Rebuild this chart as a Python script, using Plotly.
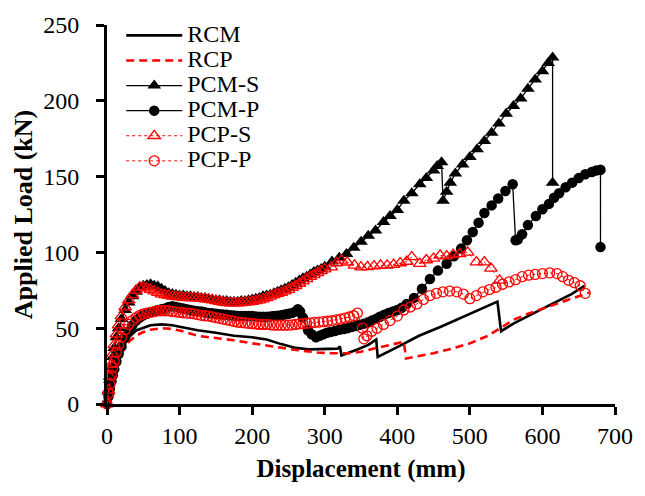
import plotly.graph_objects as go

# ---------------- data ----------------
rcm_x = [0, 3, 6, 10, 15, 20, 25, 30, 40, 50, 60, 75, 90, 100, 125, 150, 175, 200, 220, 240, 260, 280, 300, 318, 321, 323, 345, 360, 371, 373, 400, 430, 460, 490, 520, 538, 543, 560, 580, 600, 620, 640, 658]
rcm_y = [0, 8, 15, 22, 29, 35, 40, 44, 48.5, 50.5, 52, 52.5, 52, 51, 48.7, 47, 45, 44, 42.5, 39.5, 37, 36, 36, 36.5, 38, 32, 36, 39, 42.5, 31, 37.5, 45, 51, 57.5, 63.5, 67.5, 48, 53, 58, 63, 67.5, 72.5, 78]

rcp_x = [0, 3, 6, 10, 15, 20, 25, 30, 40, 50, 60, 75, 90, 100, 125, 150, 175, 200, 220, 240, 263, 290, 310, 336, 350, 372, 390, 409, 412, 430, 450, 475, 500, 525, 545, 560, 580, 600, 620, 640, 665]
rcp_y = [0, 7, 13, 20, 27, 33, 37.5, 41, 45, 47.5, 49, 50, 49.5, 48.5, 45, 43.5, 42, 40, 38.5, 37, 35.5, 34, 33.5, 33.5, 34.5, 37, 39, 41, 30, 31.5, 33.5, 36.5, 40, 45, 51, 55.5, 59.5, 63, 66, 69.5, 73.5]

pcms_x = [0, 2, 4, 6, 8, 10, 13, 16, 20, 25, 30, 35, 40, 45, 50, 55, 60, 65, 70, 75, 80, 85, 90, 95, 100, 105, 110, 115, 120, 125, 130, 135, 140, 145, 150, 155, 160, 165, 170, 175, 180, 185, 190, 195, 200, 205, 210, 215, 220, 225, 230, 235, 240, 245, 250, 255, 260, 265, 270, 275, 280, 285, 290, 295, 300, 310, 320, 330, 340, 350, 360, 370, 381, 390, 400, 409, 420, 431, 440, 450, 455, 461, 463, 468, 473, 480, 490, 500, 510, 520, 530, 540, 550, 560, 570, 580, 590, 600, 608, 614, 614]
pcms_y = [0, 8, 16, 24, 31, 37, 44, 50, 56, 62, 67, 71, 74, 76.5, 78, 78.5, 79, 78, 77.5, 76, 74.5, 73, 72.5, 72, 71.5, 71.5, 71, 71, 70.5, 70.5, 70, 70, 69.5, 69, 68.5, 68.5, 68, 68, 67.5, 67.5, 67.5, 68, 68, 68.5, 69, 69.5, 70, 71, 71.5, 72, 73, 74, 75, 76, 77, 78.5, 80, 81.5, 83, 84, 85.5, 87, 88, 89, 90.5, 94, 96.5, 99, 103, 107, 111, 114.5, 120, 124, 128, 134, 139, 145, 149, 154, 157, 159.5, 134, 140, 146, 152, 158, 163, 168, 173.5, 179, 185, 191.5, 196.5, 201.5, 208, 214, 219.5, 225, 228.5, 146]

pcmp_x = [0, 2, 4, 6, 8, 10, 13, 16, 20, 25, 30, 35, 40, 45, 50, 55, 60, 65, 70, 75, 80, 85, 90, 95, 100, 105, 110, 115, 120, 125, 130, 135, 140, 145, 150, 155, 160, 165, 170, 175, 180, 185, 190, 195, 200, 205, 210, 215, 220, 225, 230, 235, 240, 245, 250, 255, 260, 263, 266, 270, 277, 282, 288, 293, 298, 303, 308, 314, 320, 326, 331, 337, 343, 348, 354, 360, 365, 371, 376, 382, 388, 394, 400, 406, 413, 423, 434, 445, 456, 468, 478, 488, 496, 504, 512, 520, 530, 539, 549, 559, 563, 566, 572, 580, 591, 600, 609, 616, 623, 632, 641, 650, 659, 668, 674, 680, 680]
pcmp_y = [0, 5, 10, 15, 19, 23, 28, 33, 38, 44, 48, 52, 55, 57, 58.5, 59.5, 60.5, 61, 62, 62.5, 63, 64, 64.5, 64, 63.5, 63, 62.5, 62, 61.5, 61.2, 61, 60.5, 60, 59.8, 59.5, 59.2, 59, 58.8, 58.5, 58.3, 58, 58, 58, 58, 58, 57.8, 57.5, 57.5, 57.5, 57.8, 58, 58.2, 58.5, 59, 59.5, 60, 61, 62.5, 61, 57, 48.7, 46, 44, 45, 46, 47, 47.5, 48.2, 49, 49.5, 50, 50.8, 51.5, 52.2, 53, 54, 55, 56.2, 57.5, 58.8, 60, 61, 62, 63.5, 66, 70, 76, 82.5, 88, 92.5, 97.5, 102.5, 108, 113.5, 119.5, 126, 131, 135.5, 140.5, 145, 108, 108.5, 112, 118, 124, 128.5, 132, 136, 139, 143, 146, 149, 151.5, 153, 154, 154.5, 103.5]

pcps_x = [0, 2, 4, 6, 8, 10, 13, 16, 20, 25, 30, 35, 40, 45, 50, 55, 60, 65, 70, 75, 80, 85, 90, 95, 100, 105, 110, 115, 120, 125, 130, 135, 140, 145, 150, 155, 160, 165, 170, 175, 180, 185, 190, 195, 200, 205, 210, 215, 220, 225, 230, 235, 240, 245, 250, 255, 260, 265, 270, 275, 280, 285, 290, 295, 300, 309, 316, 323, 331, 341, 350, 359, 368, 377, 386, 395, 404, 413, 420, 431, 440, 450, 459, 468, 477, 486, 497, 509, 520, 529, 541]
pcps_y = [0, 9, 18, 26, 33, 39, 46, 52, 58, 64, 68.5, 72, 75, 77, 77, 76.5, 75.5, 74.5, 73.5, 72.5, 72, 71.5, 71, 70.8, 70.5, 70.2, 70, 70, 70, 69.8, 69.5, 69.2, 69, 68.5, 68, 67.5, 67, 66.8, 66.5, 66.5, 66.5, 66.8, 67, 67.2, 67.5, 68, 68.5, 69.2, 70, 71, 72, 72.8, 73.5, 74.5, 75.5, 76.8, 78, 79.5, 81, 82.5, 84, 85.2, 86.5, 87.8, 89, 90.3, 93, 94.7, 93.5, 91.4, 90.3, 90.5, 91, 91.4, 91.5, 92, 93, 94, 97, 92.6, 95, 96, 98, 97.5, 98.5, 99, 100, 93.6, 93.6, 89.5, 81.6]

pcpp_x = [0, 2, 4, 6, 8, 10, 13, 16, 20, 25, 30, 35, 40, 45, 50, 55, 60, 65, 70, 75, 80, 85, 90, 95, 100, 105, 110, 115, 120, 125, 130, 135, 140, 145, 150, 155, 160, 165, 170, 175, 180, 185, 190, 195, 200, 205, 210, 215, 220, 225, 230, 235, 240, 245, 250, 255, 260, 265, 270, 275, 280, 286, 292, 298, 304, 310, 316, 322, 328, 334, 340, 345, 352, 354, 358, 365, 372, 381, 390, 400, 409, 418, 427, 436, 445, 454, 463, 472, 482, 491, 500, 509, 518, 527, 536, 545, 554, 563, 572, 581, 590, 600, 610, 620, 628, 636, 644, 652, 659]
pcpp_y = [0, 7, 13, 19, 24, 28, 34, 39, 44, 49, 52.5, 55, 57, 58.5, 59.5, 60, 60.5, 61, 61.5, 61.5, 61.5, 61.5, 61, 60.8, 60.5, 60.2, 60, 59.8, 59.5, 59, 58.5, 58.2, 58, 57.5, 57, 56.5, 56, 55.5, 55, 54.5, 54, 53.8, 53.5, 53.2, 53, 52.8, 52.5, 52.5, 52.5, 52.2, 52, 52, 52, 52, 52, 52.2, 52.5, 52.8, 53, 53.2, 53.5, 53.8, 54, 54.3, 54.6, 55, 55.5, 56, 56.7, 57.4, 58.2, 60, 50, 43, 45, 48, 50, 52.5, 55, 58, 62, 64, 66, 69, 71.5, 73, 74, 74.5, 74, 72.5, 69.5, 71.5, 74, 75.5, 77, 79, 80.5, 82, 84, 85, 85.5, 86, 86.5, 86, 84, 81.6, 80, 78, 73]

names = ["RCM", "RCP", "PCM-S", "PCM-P", "PCP-S", "PCP-P"]

# ---------------- figure ----------------
RED = "#ff0000"
fig = go.Figure()
fig.add_trace(go.Scatter(x=rcm_x, y=rcm_y, name=names[0], mode="lines",
                         line=dict(color="black", width=2.6)))
fig.add_trace(go.Scatter(x=rcp_x, y=rcp_y, name=names[1], mode="lines",
                         line=dict(color=RED, width=2.6, dash="8px,5px")))
fig.add_trace(go.Scatter(x=pcms_x, y=pcms_y, name=names[2], mode="lines+markers",
                         line=dict(color="black", width=1.3),
                         marker=dict(symbol="triangle-up", size=12, color="black"),
                         cliponaxis=False))
fig.add_trace(go.Scatter(x=pcmp_x, y=pcmp_y, name=names[3], mode="lines+markers",
                         line=dict(color="black", width=1.3),
                         marker=dict(symbol="circle", size=10.5, color="black"),
                         cliponaxis=False))
fig.add_trace(go.Scatter(x=pcps_x, y=pcps_y, name=names[4], mode="lines+markers",
                         line=dict(color=RED, width=1, dash="dot"),
                         marker=dict(symbol="triangle-up-open", size=11, color=RED,
                                     line=dict(width=1.3, color=RED)),
                         cliponaxis=False))
fig.add_trace(go.Scatter(x=pcpp_x, y=pcpp_y, name=names[5], mode="lines+markers",
                         line=dict(color=RED, width=1, dash="dot"),
                         marker=dict(symbol="circle-open", size=10, color=RED,
                                     line=dict(width=1.3, color=RED)),
                         cliponaxis=False))

# legend names rendered large while keeping the compact row pitch
for tr in fig.data:
    tr.name = '<span style="font-size:24px">' + tr.name + '</span>'

FONT = "Liberation Serif, Times New Roman, serif"
fig.update_layout(
    width=645, height=496,
    margin=dict(l=107, r=25, t=24, b=92),
    paper_bgcolor="white", plot_bgcolor="white",
    font=dict(family=FONT, color="black", size=24),
    showlegend=True,
    legend=dict(x=0.028, y=1.019, xanchor="left", yanchor="top",
                bgcolor="rgba(0,0,0,0)", borderwidth=0,
                font=dict(family=FONT, size=17, color="black"),
                itemwidth=56, tracegroupgap=0),
    xaxis=dict(range=[0, 700], dtick=100, tick0=0, showgrid=False, zeroline=False,
               showline=True, linecolor="black", linewidth=3,
               ticks="outside", ticklen=8, tickwidth=3, tickcolor="black",
               tickfont=dict(family=FONT, size=24, color="black"),
               title=dict(text="<b>Displacement (mm)</b>",
                          font=dict(family=FONT, size=25, color="black"), standoff=12)),
    yaxis=dict(range=[0, 250], dtick=50, tick0=0, showgrid=False, zeroline=False,
               showline=True, linecolor="black", linewidth=3,
               ticks="outside", ticklen=8, tickwidth=3, tickcolor="black",
               ticklabelstandoff=12,
               tickfont=dict(family=FONT, size=24, color="black"),
               title=dict(text="<b>Applied Load (kN)</b>",
                          font=dict(family=FONT, size=26, color="black"), standoff=4)),
)

fig.write_html("out.html")
